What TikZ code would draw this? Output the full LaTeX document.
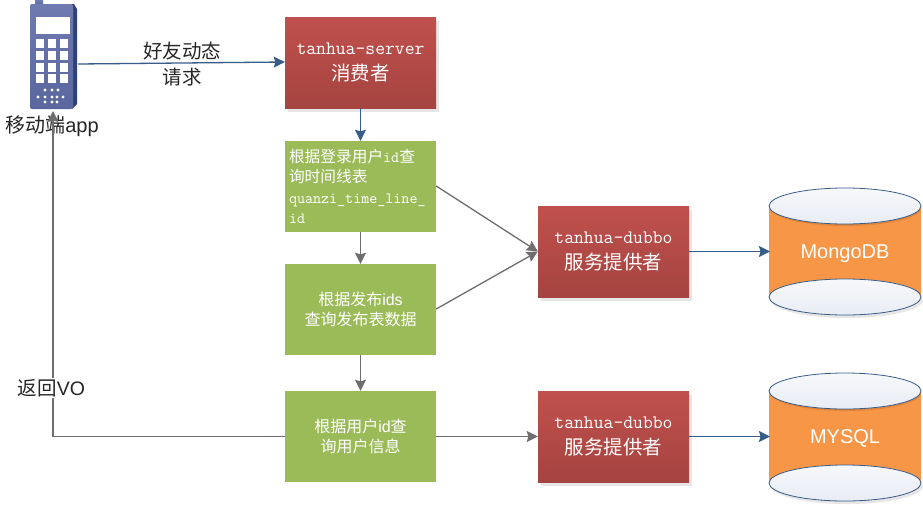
\documentclass[tikz,border=0pt]{standalone}
\usepackage{fontspec}
\setmainfont{Liberation Sans}
\newfontfamily\cjk{Noto Sans CJK SC}
\usetikzlibrary{arrows.meta,backgrounds}
\definecolor{redtop}{HTML}{C0504D}
\definecolor{redbot}{HTML}{A54440}
\definecolor{greenbox}{HTML}{9BBB59}
\definecolor{bluearrow}{HTML}{385D8A}
\definecolor{grayarrow}{HTML}{6E6E6E}
\definecolor{orangecyl}{HTML}{F79646}
\definecolor{orangedark}{HTML}{E0853C}
\definecolor{phoneA}{HTML}{6E7AB0}
\definecolor{phoneC}{HTML}{5A669E}
\definecolor{phoneB}{HTML}{2F4278}
\definecolor{ellA}{HTML}{F7F8FB}
\definecolor{ellB}{HTML}{E8ECF4}
\definecolor{shad}{HTML}{E6E6E6}
\tikzset{
  x=1pt,y=-1pt,
  boxshape/.style={rectangle,minimum width=151pt,minimum height=91pt,inner sep=0pt,text=white,align=center},
  redbox/.style={boxshape,top color=redtop,bottom color=redbot,font=\fontsize{16}{25.5}\selectfont},
  greenb/.style={boxshape,fill=greenbox,font=\fontsize{16}{20}\selectfont},
  blueline/.style={draw=bluearrow,line width=1.3pt,-{Stealth[length=11pt,width=11pt,inset=1.5pt]}},
  grayline/.style={draw=grayarrow,line width=1.3pt,-{Stealth[length=11pt,width=11pt,inset=1.5pt]}},
  lbl/.style={inner sep=0pt,align=center,text=black!85},
  ell/.style={draw=bluearrow,line width=0.8pt,top color=ellA,bottom color=ellB},
}
\newcommand{\mono}[1]{{\ttfamily\fontsize{19.1}{20}\selectfont #1}}
\newcommand{\han}[2]{{\cjk\fontsize{#1}{#1}\selectfont #2}}
\newcommand{\smallmono}[1]{{\ttfamily\fontsize{15.6}{20}\selectfont #1}}
\newcommand{\redtext}[2]{\raisebox{-2.7pt}{\mono{#1}}\\\raisebox{-2.7pt}{\han{19.5}{#2}}}
\newcommand{\cyl}[2]{%
  \fill[shad] (847,#2+3) ellipse[x radius=76,y radius=18];
  \fill[orangecyl] (769,#1) -- (921,#1) -- (921,#2) arc[x radius=76,y radius=18,start angle=0,end angle=180] -- cycle;
  \fill[orangedark] (846,#1+2) ellipse[x radius=75,y radius=18];
  \draw[ell] (845,#1) ellipse[x radius=76,y radius=18];
  \draw[ell] (845,#2) ellipse[x radius=76,y radius=18];
}
\begin{document}
\begin{tikzpicture}
\useasboundingbox (0,0) rectangle (923,504);
% cylinders
\cyl{206}{297}
\cyl{391}{483}
\node[text=white,font=\fontsize{20}{24}\selectfont] (mongo) at (845,254) {MongoDB};
\node[text=white,font=\fontsize{20}{24}\selectfont] (mysql) at (845,438) {MYSQL};
\coordinate (cyla) at (770,251.5);
\coordinate (cylb) at (770,436.5);
% phone
\shade[top color=phoneA,bottom color=phoneC] (35,0) rectangle (43,6);
\fill[phoneB] (72,4) -- (74,4) -- (77,9) -- (77,104) -- (72,109) -- cycle;
\shade[top color=phoneA,bottom color=phoneC,rounded corners=2pt] (30,4) rectangle (73,109);
\fill[white] (35.5,17) rectangle (70,34);
\foreach \ky in {39,51,62.5,74}{
  \foreach \kx in {35.5,47.5,59.5}{
    \fill[white] (\kx,\ky) rectangle +(8.5,9);
  }
}
\foreach \dx/\dy in {45/90,52/90,58/90,38/97,45/97,52/97,57/97,63/97,45/102,52/102,57/102}{
  \fill[white] (\dx,\dy) circle[radius=1.7];
}
\coordinate (phoneR) at (78,64);
\coordinate (phoneB2) at (53,111);
\node[lbl] (applbl) at (52,126) {\han{20}{移动端}{\fontsize{20}{22}\selectfont app}};
% boxes
\node[redbox] (server) at (360.5,62.5) {\redtext{tanhua-server}{消费者}};
\node[greenb,align=left,text width=143pt,font=\fontsize{16}{20.5}\selectfont] (g1) at (360.5,186.5) {\han{15.7}{根据登录用户}\smallmono{id}\han{15.7}{查}\\\han{15.7}{询时间线表}\\\smallmono{quanzi\_time\_line\_}\\\smallmono{id}};
\node[greenb] (g2) at (360.5,309.5) {\han{16}{根据发布}{\fontsize{16}{18}\selectfont ids}\\\han{16}{查询发布表数据}};
\node[greenb] (g3) at (360.5,436.5) {\raisebox{-1pt}{\han{16}{根据用户}{\fontsize{16}{18}\selectfont id}\han{16}{查}}\\\raisebox{-1pt}{\han{16}{询用户信息}}};
\node[redbox] (d1) at (613.5,251.5) {\redtext{tanhua-dubbo}{服务提供者}};
\node[redbox] (d2) at (613.5,436.5) {\redtext{tanhua-dubbo}{服务提供者}};
\begin{scope}[on background layer]
  \fill[white] (0,0) rectangle (923,504);
  \foreach \n in {server,d1,d2}{
    \fill[shad] ([xshift=3pt,yshift=-4pt]\n.south west) rectangle ([xshift=3pt,yshift=-4pt]\n.north east);
  }
\end{scope}
% connectors
\draw[blueline] (phoneR) -- (server.west |- 0,62);
\node[lbl,font=\fontsize{16}{26}\selectfont] (reqlbl) at (182,64) {\han{19.5}{好友动态}\\\han{19.5}{请求}};
\draw[blueline] (server) -- (g1);
\draw[grayline] (g1) -- (g2);
\draw[grayline] (g2) -- (g3);
\draw[grayline] (g1.east |- 0,186) -- (d1.west);
\draw[grayline] (g2.east |- 0,309) -- (d1.west);
\draw[grayline] (g3) -- (d2);
\draw[blueline] (d1) -- (cyla);
\draw[blueline] (d2) -- (cylb);
\draw[grayline] (g3.west) -| (phoneB2);
\node[fill=white,lbl,inner ysep=1pt,inner xsep=0pt] (backlbl) at (51.5,388) {\han{19.5}{返回}{\fontsize{19.5}{22}\selectfont VO}};
\end{tikzpicture}
\end{document}
